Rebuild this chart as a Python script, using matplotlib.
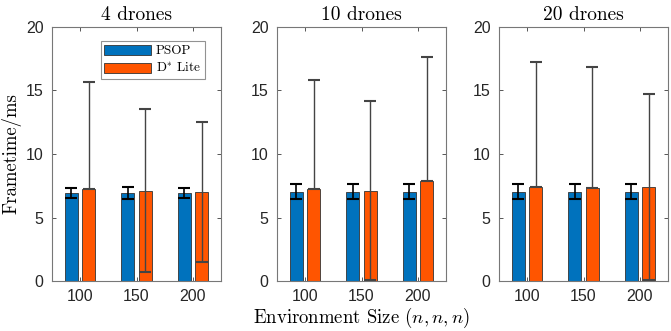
import matplotlib
matplotlib.use("Agg")
import matplotlib.pyplot as plt
import numpy as np

plt.rcParams['mathtext.fontset'] = 'cm'
plt.rcParams['axes.unicode_minus'] = False

panels = ["4 drones", "10 drones", "20 drones"]
sizes = ["100", "150", "200"]
series = ["PSOP", r"D$^{*}$ Lite"]

psop_mean = [[6.95, 6.95, 6.95], [7.02, 7.02, 7.02], [7.02, 7.02, 7.02]]
psop_low = [[6.5, 6.42, 6.5], [6.42, 6.42, 6.42], [6.42, 6.42, 6.42]]
psop_high = [[7.34, 7.44, 7.34], [7.65, 7.65, 7.65], [7.65, 7.65, 7.65]]

dstar_mean = [[7.23, 7.1, 7.02], [7.23, 7.1, 7.84], [7.42, 7.34, 7.42]]
dstar_low = [[7.23, 0.73, 1.52], [7.23, 0.05, 7.84], [7.42, 7.34, 0.05]]
dstar_high = [[15.67, 13.58, 12.53], [15.86, 14.18, 17.64], [17.27, 16.88, 14.76]]

c_blue = "#0072BD"
c_orange = "#FF5500"

fig = plt.figure(figsize=(6.71, 3.31), dpi=100)
lefts = [52/671, 277/671, 499/671]
w = 169/671
b = 1 - 281/331
h = (281 - 27)/331

serif = 'cmr10'
x = np.arange(1, 4)
bw = 0.23
off = 0.155
for i, title in enumerate(panels):
    ax = fig.add_axes([lefts[i], b, w, h])
    pm = np.array(psop_mean[i]); dm = np.array(dstar_mean[i])
    ax.bar(x - off, pm, bw, color=c_blue, edgecolor="#333333", linewidth=0.6, label=series[0], zorder=2)
    ax.bar(x + off, dm, bw, color=c_orange, edgecolor="#333333", linewidth=0.6, label=series[1], zorder=2)
    ax.errorbar(x - off, pm, yerr=[pm - np.array(psop_low[i]), np.array(psop_high[i]) - pm],
                fmt='none', ecolor='black', elinewidth=1.2, capsize=4, capthick=1.5, zorder=3)
    ax.errorbar(x + off, dm, yerr=[dm - np.array(dstar_low[i]), np.array(dstar_high[i]) - dm],
                fmt='none', ecolor='#444444', elinewidth=1.0, capsize=4, capthick=1.5, zorder=3)
    ax.set_xlim(0.5, 3.5)
    ax.set_ylim(0, 20)
    ax.set_yticks([0, 5, 10, 15, 20])
    ax.set_xticks(x)
    ax.set_xticklabels(sizes)
    ax.tick_params(direction='in', length=3, width=0.7, color='#555555', labelsize=11.5,
                   top=True, right=True, pad=6)
    for lbl in ax.get_xticklabels() + ax.get_yticklabels():
        lbl.set_fontfamily('Liberation Sans')
        lbl.set_color('#262626')
    for s in ax.spines.values():
        s.set_color('#777777')
        s.set_linewidth(0.8)
    ax.set_title(title, fontfamily=serif, fontsize=14, pad=5)
    if i == 0:
        ax.set_ylabel("Frametime/ms", fontfamily=serif, fontsize=13.5, labelpad=3)
        leg = ax.legend(loc='upper right', prop={'family': serif, 'size': 9.5},
                        fancybox=False, edgecolor='#777777', handlelength=3.5, handleheight=0.75,
                        borderpad=0.3, labelspacing=0.3, handletextpad=0.4,
                        borderaxespad=0, bbox_to_anchor=(0.905, 0.945))
        leg.get_frame().set_linewidth(0.8)
    if i == 1:
        ax.set_xlabel(r"Environment Size $(n,n,n)$", fontfamily=serif, fontsize=13.5, labelpad=1)

fig.savefig("out.png", dpi=100)
